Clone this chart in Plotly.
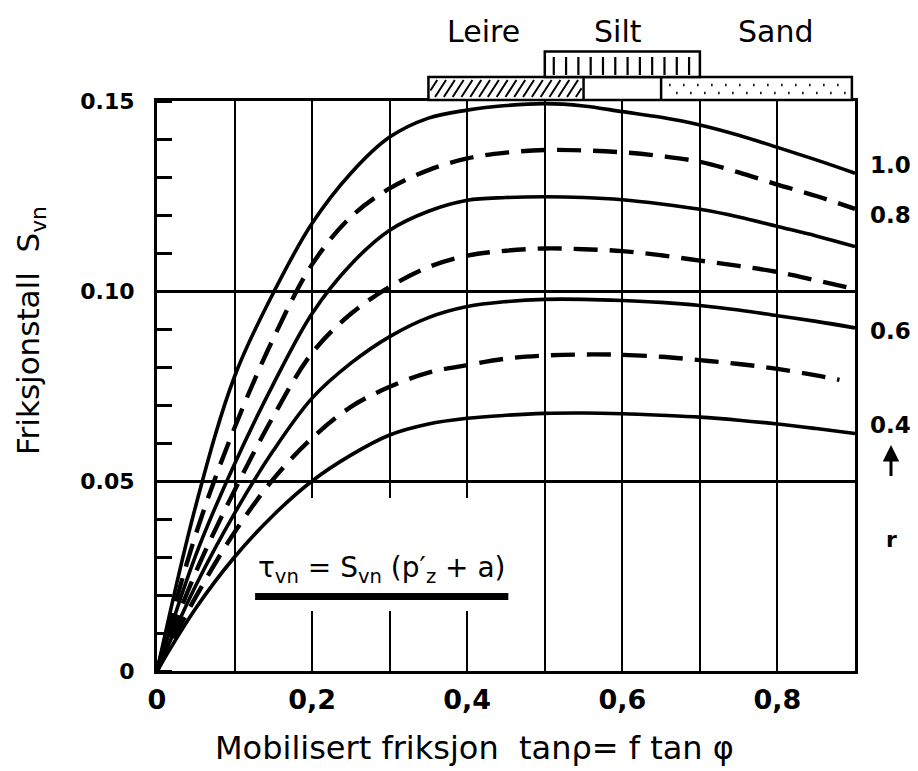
import plotly.graph_objects as go

# ---------------- data ----------------
x_pts = [0, 0.05, 0.1, 0.15, 0.2, 0.25, 0.3, 0.35, 0.4, 0.45, 0.5, 0.55, 0.6, 0.65, 0.7, 0.75, 0.8, 0.85, 0.9]
x_pts_r05 = [0, 0.05, 0.1, 0.15, 0.2, 0.25, 0.3, 0.35, 0.4, 0.45, 0.5, 0.55, 0.6, 0.65, 0.7, 0.75, 0.8, 0.85, 0.88]

s_r10 = [0, 0.0435, 0.0775, 0.0995, 0.1178, 0.131, 0.1405, 0.1455, 0.1476, 0.1488, 0.1493, 0.1487, 0.1472, 0.1457, 0.1437, 0.141, 0.1378, 0.1345, 0.131]
s_r09 = [0, 0.036, 0.064, 0.0875, 0.107, 0.1195, 0.127, 0.1318, 0.1349, 0.1364, 0.1371, 0.137, 0.1365, 0.1355, 0.134, 0.1312, 0.128, 0.125, 0.1216]
s_r08 = [0, 0.0305, 0.0545, 0.0755, 0.0941, 0.107, 0.116, 0.121, 0.1239, 0.1246, 0.1248, 0.1246, 0.124, 0.1229, 0.1215, 0.1195, 0.117, 0.1145, 0.1117]
s_r07 = [0, 0.026, 0.0475, 0.067, 0.0837, 0.094, 0.1011, 0.1063, 0.1093, 0.1106, 0.1112, 0.111, 0.1105, 0.1094, 0.108, 0.1066, 0.105, 0.1028, 0.1005]
s_r06 = [0, 0.0225, 0.0415, 0.058, 0.0718, 0.081, 0.088, 0.093, 0.0959, 0.0972, 0.0978, 0.0978, 0.0975, 0.097, 0.0962, 0.095, 0.0935, 0.092, 0.0903]
s_r05 = [0, 0.0195, 0.0365, 0.0505, 0.0613, 0.0695, 0.0748, 0.0785, 0.0805, 0.0822, 0.083, 0.0833, 0.0832, 0.0827, 0.0818, 0.0808, 0.0795, 0.0778, 0.0766]
s_r04 = [0, 0.0165, 0.030, 0.041, 0.050, 0.0568, 0.0621, 0.065, 0.0665, 0.0673, 0.0678, 0.0679, 0.0677, 0.0673, 0.0668, 0.066, 0.065, 0.0638, 0.0625]

x_tickvals = [0, 0.2, 0.4, 0.6, 0.8]
x_ticktext = ["0", "0,2", "0,4", "0,6", "0,8"]
y_tickvals = [0, 0.05, 0.10, 0.15]
y_ticktext = ["0", "0.05", "0.10", "0.15"]

r_labels = ["1.0", "0.8", "0.6", "0.4"]
r_label_y = [0.1332, 0.1200, 0.0895, 0.0647]

soil_names = ["Leire", "Silt", "Sand"]
leire_range = [0.35, 0.55]
silt_range = [0.50, 0.70]
sand_range = [0.65, 0.896]
soil_label_x = [0.421, 0.595, 0.797]

# ---------------- figure ----------------
fig = go.Figure()

curves = [
    (x_pts, s_r10, "solid"),
    (x_pts, s_r09, "dash"),
    (x_pts, s_r08, "solid"),
    (x_pts, s_r07, "dash"),
    (x_pts, s_r06, "solid"),
    (x_pts_r05, s_r05, "dash"),
    (x_pts, s_r04, "solid"),
]
for xs, ys, style in curves:
    fig.add_trace(go.Scatter(
        x=xs, y=ys, mode="lines",
        line=dict(color="black", width=3.6 if style == "solid" else 4.4,
                  dash="solid" if style == "solid" else "24px,12px",
                  shape="spline", smoothing=1.0),
        hoverinfo="skip", cliponaxis=True))

# page body adds an 8px offset; compensate so the plot sits where the reference has it
OFF = 8
W, H = 918 - OFF, 771 - OFF
ML, MR, MT, MB = 157 - OFF, 63, 101 - OFF, 100
plot_h = H - MT - MB
plot_w = W - ML - MR

def py(px):
    # screen pixel row -> paper y
    return (771 - MB - px) / plot_h

def pxx(px):
    # screen pixel column -> paper x
    return (px - 157) / plot_w

shapes = []
# white background behind the formula (hides the grid)
shapes.append(dict(type="rect", xref="x", yref="y", x0=0.15, x1=0.462, y0=0.0158, y1=0.0455,
                   fillcolor="white", line=dict(width=0), layer="between"))
# underline of formula
shapes.append(dict(type="line", xref="x", yref="y", x0=0.1265, x1=0.453, y0=0.0196, y1=0.0196,
                   line=dict(color="black", width=7)))

# ----- soil bar above the plot -----
low_y0, low_y1 = py(100), py(77)
up_y0, up_y1 = py(77), py(51.5)
bar_line = dict(color="black", width=2.5)
shapes.append(dict(type="rect", xref="x", yref="paper", x0=leire_range[0], x1=sand_range[1],
                   y0=low_y0, y1=low_y1, line=bar_line, fillcolor="white"))
shapes.append(dict(type="line", xref="x", yref="paper", x0=leire_range[1], x1=leire_range[1],
                   y0=low_y0, y1=low_y1, line=bar_line))
shapes.append(dict(type="line", xref="x", yref="paper", x0=sand_range[0], x1=sand_range[0],
                   y0=low_y0, y1=low_y1, line=bar_line))
shapes.append(dict(type="rect", xref="x", yref="paper", x0=silt_range[0], x1=silt_range[1],
                   y0=up_y0, y1=up_y1, line=bar_line, fillcolor="white"))

# diagonal hatching for Leire
px_x = 0.9 / plot_w
hy0, hy1 = py(97), py(80)
dx = 11 * px_x
step = 8.8 * px_x
path = ""
xs0 = leire_range[0] - dx
lo, hi = leire_range[0] + 2 * px_x, leire_range[1] - 2 * px_x
while xs0 < leire_range[1]:
    xa, ya, xb, yb = xs0, hy0, xs0 + dx, hy1
    if xa < lo:
        t = (lo - xa) / dx
        xa, ya = lo, hy0 + t * (hy1 - hy0)
    if xb > hi:
        t = (xb - hi) / dx
        xb, yb = hi, hy1 - t * (hy1 - hy0)
    if xb > xa:
        path += f"M{xa},{ya}L{xb},{yb}"
    xs0 += step
shapes.append(dict(type="path", xref="x", yref="paper", path=path, line=dict(color="black", width=2)))

# vertical stripes for Silt
path = ""
vx = silt_range[0] + 9 * px_x
while vx < silt_range[1] - 4 * px_x:
    path += f"M{vx},{py(75)}L{vx},{py(57)}"
    vx += 12.3 * px_x
shapes.append(dict(type="path", xref="x", yref="paper", path=path, line=dict(color="black", width=2.2)))

# dots for Sand
path = ""
row = 0
for prow in (85, 93):
    dxx = sand_range[0] + (8 + 7 * row) * px_x
    while dxx < sand_range[1] - 4 * px_x:
        path += f"M{dxx},{py(prow)}L{dxx + 1.5 * px_x},{py(prow)}"
        dxx += 14 * px_x
    row += 1
shapes.append(dict(type="path", xref="x", yref="paper", path=path, line=dict(color="black", width=2.5)))

annotations = []
for name, xl in zip(soil_names, soil_label_x):
    annotations.append(dict(text=name, xref="x", yref="paper", x=xl, y=py(31),
                            xanchor="center", yanchor="middle",
                            showarrow=False, font=dict(size=30, family="DejaVu Sans", color="black")))

# r labels at the right end of the curves
for lab, yl in zip(r_labels, r_label_y):
    annotations.append(dict(text=lab, xref="x", yref="y", x=0.9, y=yl, xanchor="left",
                            yanchor="middle", xshift=13,
                            showarrow=False, font=dict(size=23, family="DejaVu Sans", weight="bold",
                                                       color="black")))

# arrow with r
annotations.append(dict(text="r", xref="x", yref="y", x=0.9, y=0.0595, xshift=36,
                        showarrow=True, ax=0, ay=95, axref="pixel", ayref="pixel",
                        arrowhead=2, arrowsize=1.1, arrowwidth=3, arrowcolor="black", startstandoff=50,
                        font=dict(size=22, family="DejaVu Sans", weight="bold", color="black")))

# formula
annotations.append(dict(text="τ<sub>vn</sub> = S<sub>vn</sub> (p′<sub>z</sub> + a)", xref="x", yref="y",
                        x=0.1275, y=0.0212, xanchor="left", yanchor="bottom", showarrow=False,
                        font=dict(size=28, family="DejaVu Sans", color="black")))

# axis titles
annotations.append(dict(text="Friksjonstall  S<sub>vn</sub>", xref="paper", yref="paper",
                        x=pxx(30), y=py(331), xanchor="center", yanchor="middle", textangle=-90,
                        showarrow=False, font=dict(size=31, family="DejaVu Sans", color="black")))
annotations.append(dict(text="Mobilisert friksjon  tanρ= f tan φ", xref="paper", yref="paper",
                        x=pxx(474), y=py(748), xanchor="center", yanchor="middle",
                        showarrow=False, font=dict(size=32, family="DejaVu Sans", color="black")))

fig.update_layout(
    width=W, height=H,
    margin=dict(l=ML, r=MR, t=MT, b=MB),
    plot_bgcolor="white", paper_bgcolor="white",
    showlegend=False,
    font=dict(family="DejaVu Sans", color="black"),
    shapes=shapes, annotations=annotations,
)
fig.update_xaxes(range=[0, 0.9], tickmode="array", tickvals=x_tickvals, ticktext=x_ticktext,
                 showline=True, mirror=True, linewidth=3, linecolor="black",
                 showgrid=True, gridcolor="black", gridwidth=1.5, zeroline=False,
                 ticks="", tickfont=dict(size=27, weight="bold"), ticklabelstandoff=3,
                 minor=dict(tickmode="linear", tick0=0, dtick=0.1, showgrid=True,
                            gridcolor="black", gridwidth=1.5, ticks=""))
fig.update_yaxes(range=[0, 0.15], tickmode="array", tickvals=y_tickvals, ticktext=y_ticktext,
                 showline=True, mirror=True, linewidth=3, linecolor="black",
                 showgrid=True, gridcolor="black", gridwidth=2.5, zeroline=False,
                 ticks="", tickfont=dict(size=22, weight="bold"), ticklabelstandoff=15,
                 minor=dict(tickmode="linear", tick0=0, dtick=0.01, ticks="inside", ticklen=15,
                            tickwidth=3, tickcolor="black", showgrid=False))

fig.write_html("out.html")
